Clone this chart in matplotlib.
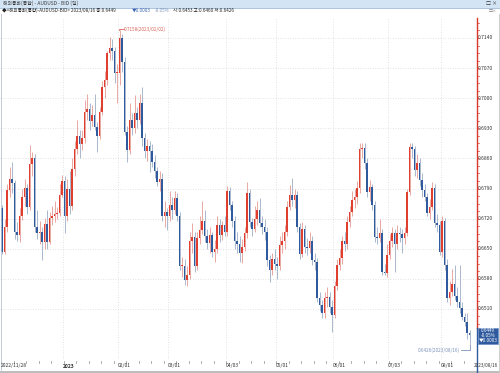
import matplotlib
matplotlib.use('Agg')
import matplotlib.pyplot as plt
from matplotlib.patches import Rectangle
from matplotlib.lines import Line2D

plt.rcParams['font.family'] = ['Noto Sans CJK KR', 'DejaVu Sans']

# ---------------- data (AUDUSD daily, 2022/11/28 - 2023/08/16) ----------------
opens = [
    0.6745, 0.6643, 0.6700, 0.6787, 0.6811, 0.6802, 0.6690, 0.6683, 0.6725, 0.6771,
    0.6792, 0.6748, 0.6846, 0.6860, 0.6701, 0.6686, 0.6690, 0.6666, 0.6707, 0.6666,
    0.6721, 0.6725, 0.6730, 0.6732, 0.6776, 0.6808, 0.6727, 0.6790, 0.6750, 0.6835,
    0.6882, 0.6911, 0.6893, 0.6907, 0.6967, 0.6976, 0.6947, 0.6960, 0.6934, 0.6911,
    0.6969, 0.7027, 0.7042, 0.7104, 0.7116, 0.7110, 0.7058, 0.7058, 0.7140, 0.7085,
    0.6922, 0.6880, 0.6949, 0.6930, 0.6965, 0.6950, 0.6990, 0.6907, 0.6877, 0.6890,
    0.6877, 0.6852, 0.6830, 0.6806, 0.6812, 0.6725, 0.6736, 0.6725, 0.6752, 0.6740,
    0.6769, 0.6725, 0.6610, 0.6611, 0.6577, 0.6590, 0.6667, 0.6678, 0.6610, 0.6674,
    0.6694, 0.6715, 0.6680, 0.6663, 0.6682, 0.6643, 0.6649, 0.6705, 0.6682, 0.6705,
    0.6690, 0.6784, 0.6752, 0.6715, 0.6668, 0.6660, 0.6639, 0.6655, 0.6686, 0.6779,
    0.6713, 0.6697, 0.6718, 0.6740, 0.6709, 0.6700, 0.6690, 0.6624, 0.6600, 0.6626,
    0.6614, 0.6610, 0.6659, 0.6667, 0.6690, 0.6748, 0.6776, 0.6763, 0.6776, 0.6701,
    0.6637, 0.6697, 0.6655, 0.6652, 0.6668, 0.6624, 0.6620, 0.6535, 0.6520, 0.6500,
    0.6535, 0.6538, 0.6515, 0.6497, 0.6564, 0.6612, 0.6628, 0.6667, 0.6660, 0.6713,
    0.6736, 0.6763, 0.6770, 0.6791, 0.6883, 0.6885, 0.6849, 0.6783, 0.6794, 0.6752,
    0.6678, 0.6674, 0.6686, 0.6597, 0.6593, 0.6635, 0.6667, 0.6686, 0.6660, 0.6686,
    0.6684, 0.6674, 0.6686, 0.6783, 0.6887, 0.6883, 0.6833, 0.6850, 0.6810, 0.6787,
    0.6771, 0.6732, 0.6748, 0.6791, 0.6709, 0.6705, 0.6643, 0.6715, 0.6612, 0.6535,
    0.6550, 0.6569, 0.6539, 0.6527, 0.6513, 0.6492, 0.6480, 0.6453,
]
highs = [
    0.6752, 0.6720, 0.6800, 0.6841, 0.6851, 0.6810, 0.6712, 0.6744, 0.6790, 0.6812,
    0.6800, 0.6891, 0.6875, 0.6870, 0.6740, 0.6715, 0.6700, 0.6722, 0.6740, 0.6735,
    0.6750, 0.6760, 0.6748, 0.6800, 0.6822, 0.6818, 0.6812, 0.6830, 0.6860, 0.6900,
    0.6950, 0.6925, 0.6925, 0.6995, 0.7010, 0.6990, 0.6985, 0.7010, 0.6945, 0.6980,
    0.7040, 0.7063, 0.7110, 0.7142, 0.7137, 0.7120, 0.7080, 0.7158, 0.7150, 0.7095,
    0.6935, 0.6990, 0.6965, 0.7007, 0.6980, 0.7010, 0.7027, 0.6920, 0.6905, 0.6900,
    0.6893, 0.6868, 0.6840, 0.6830, 0.6825, 0.6760, 0.6745, 0.6785, 0.6770, 0.6784,
    0.6780, 0.6735, 0.6630, 0.6625, 0.6610, 0.6690, 0.6710, 0.6690, 0.6690, 0.6725,
    0.6760, 0.6740, 0.6695, 0.6700, 0.6690, 0.6670, 0.6725, 0.6720, 0.6715, 0.6725,
    0.6795, 0.6793, 0.6760, 0.6725, 0.6690, 0.6680, 0.6672, 0.6700, 0.6806, 0.6790,
    0.6722, 0.6750, 0.6760, 0.6769, 0.6725, 0.6720, 0.6700, 0.6635, 0.6640, 0.6650,
    0.6630, 0.6680, 0.6690, 0.6705, 0.6760, 0.6798, 0.6814, 0.6790, 0.6785, 0.6710,
    0.6712, 0.6705, 0.6675, 0.6690, 0.6680, 0.6640, 0.6628, 0.6550, 0.6530, 0.6550,
    0.6560, 0.6550, 0.6530, 0.6575, 0.6625, 0.6650, 0.6680, 0.6690, 0.6725, 0.6750,
    0.6785, 0.6790, 0.6808, 0.6895, 0.6897, 0.6895, 0.6860, 0.6810, 0.6800, 0.6760,
    0.6700, 0.6720, 0.6695, 0.6615, 0.6660, 0.6685, 0.6700, 0.6695, 0.6705, 0.6700,
    0.6695, 0.6700, 0.6790, 0.6895, 0.6897, 0.6890, 0.6870, 0.6862, 0.6825, 0.6800,
    0.6780, 0.6765, 0.6805, 0.6800, 0.6730, 0.6715, 0.6725, 0.6722, 0.6625, 0.6575,
    0.6604, 0.6612, 0.6560, 0.6612, 0.6525, 0.6500, 0.6500, 0.6460,
]
lows = [
    0.6638, 0.6638, 0.6690, 0.6770, 0.6780, 0.6672, 0.6668, 0.6665, 0.6716, 0.6750,
    0.6730, 0.6740, 0.6820, 0.6690, 0.6672, 0.6660, 0.6624, 0.6650, 0.6650, 0.6660,
    0.6705, 0.6712, 0.6718, 0.6726, 0.6770, 0.6686, 0.6715, 0.6730, 0.6740, 0.6820,
    0.6870, 0.6860, 0.6880, 0.6895, 0.6950, 0.6925, 0.6935, 0.6925, 0.6875, 0.6905,
    0.6960, 0.7000, 0.7030, 0.7090, 0.7090, 0.7035, 0.6990, 0.7030, 0.7060, 0.6915,
    0.6852, 0.6870, 0.6915, 0.6920, 0.6930, 0.6940, 0.6890, 0.6862, 0.6855, 0.6829,
    0.6840, 0.6815, 0.6795, 0.6785, 0.6715, 0.6700, 0.6694, 0.6715, 0.6720, 0.6730,
    0.6715, 0.6600, 0.6585, 0.6566, 0.6564, 0.6580, 0.6640, 0.6595, 0.6600, 0.6660,
    0.6685, 0.6665, 0.6650, 0.6640, 0.6630, 0.6620, 0.6640, 0.6665, 0.6670, 0.6680,
    0.6680, 0.6740, 0.6700, 0.6650, 0.6640, 0.6620, 0.6616, 0.6645, 0.6675, 0.6700,
    0.6680, 0.6690, 0.6705, 0.6700, 0.6685, 0.6670, 0.6610, 0.6573, 0.6590, 0.6600,
    0.6580, 0.6600, 0.6640, 0.6650, 0.6680, 0.6740, 0.6750, 0.6745, 0.6690, 0.6625,
    0.6630, 0.6640, 0.6635, 0.6640, 0.6612, 0.6600, 0.6525, 0.6505, 0.6490, 0.6490,
    0.6515, 0.6500, 0.6457, 0.6490, 0.6555, 0.6600, 0.6615, 0.6645, 0.6650, 0.6700,
    0.6725, 0.6745, 0.6755, 0.6780, 0.6860, 0.6835, 0.6770, 0.6760, 0.6740, 0.6665,
    0.6660, 0.6665, 0.6590, 0.6589, 0.6585, 0.6625, 0.6655, 0.6597, 0.6650, 0.6665,
    0.6640, 0.6660, 0.6680, 0.6775, 0.6860, 0.6820, 0.6815, 0.6795, 0.6770, 0.6760,
    0.6725, 0.6720, 0.6740, 0.6700, 0.6690, 0.6635, 0.6630, 0.6600, 0.6525, 0.6520,
    0.6540, 0.6530, 0.6515, 0.6500, 0.6485, 0.6470, 0.6440, 0.6426,
]
closes = [
    0.6643, 0.6700, 0.6787, 0.6811, 0.6802, 0.6690, 0.6683, 0.6725, 0.6771, 0.6792,
    0.6748, 0.6846, 0.6860, 0.6701, 0.6686, 0.6690, 0.6666, 0.6707, 0.6666, 0.6721,
    0.6725, 0.6730, 0.6732, 0.6776, 0.6808, 0.6727, 0.6790, 0.6750, 0.6835, 0.6882,
    0.6911, 0.6893, 0.6907, 0.6967, 0.6976, 0.6947, 0.6960, 0.6934, 0.6911, 0.6969,
    0.7027, 0.7042, 0.7104, 0.7116, 0.7110, 0.7058, 0.7058, 0.7140, 0.7085, 0.6922,
    0.6880, 0.6949, 0.6930, 0.6965, 0.6950, 0.6990, 0.6907, 0.6877, 0.6890, 0.6877,
    0.6852, 0.6830, 0.6806, 0.6812, 0.6725, 0.6736, 0.6725, 0.6752, 0.6740, 0.6769,
    0.6725, 0.6610, 0.6611, 0.6577, 0.6590, 0.6667, 0.6678, 0.6610, 0.6674, 0.6694,
    0.6715, 0.6680, 0.6663, 0.6682, 0.6643, 0.6649, 0.6705, 0.6682, 0.6705, 0.6690,
    0.6784, 0.6752, 0.6715, 0.6668, 0.6660, 0.6639, 0.6655, 0.6686, 0.6779, 0.6713,
    0.6697, 0.6718, 0.6740, 0.6709, 0.6700, 0.6690, 0.6624, 0.6600, 0.6626, 0.6614,
    0.6610, 0.6659, 0.6667, 0.6690, 0.6748, 0.6776, 0.6763, 0.6776, 0.6701, 0.6637,
    0.6697, 0.6655, 0.6652, 0.6668, 0.6624, 0.6620, 0.6535, 0.6520, 0.6500, 0.6535,
    0.6538, 0.6515, 0.6497, 0.6564, 0.6612, 0.6628, 0.6667, 0.6660, 0.6713, 0.6736,
    0.6763, 0.6770, 0.6791, 0.6883, 0.6885, 0.6849, 0.6783, 0.6794, 0.6752, 0.6678,
    0.6674, 0.6686, 0.6597, 0.6593, 0.6635, 0.6667, 0.6686, 0.6660, 0.6686, 0.6684,
    0.6674, 0.6686, 0.6783, 0.6887, 0.6883, 0.6833, 0.6850, 0.6810, 0.6787, 0.6771,
    0.6732, 0.6748, 0.6791, 0.6709, 0.6705, 0.6643, 0.6715, 0.6612, 0.6535, 0.6550,
    0.6569, 0.6539, 0.6527, 0.6513, 0.6492, 0.6480, 0.6453, 0.6449,
]

x_tick_index = [0, 25, 47, 67, 90, 110, 133, 155, 176]
x_tick_labels = ['2022/11/28', '2023', '02/01', '03/01', '04/03', '05/01', '06/01', '07/03', '08/01']
last_date_label = '2023/08/16'
y_tick_values = [0.7140, 0.7070, 0.7000, 0.6930, 0.6860, 0.6790, 0.6720, 0.6650, 0.6580, 0.6510]

title_text = '해외통화(통합) - AUDUSD - BID (일)'
info_main = '◆<해외통화(통합)-AUDUSD-BID> 2023/08/16 종:0.6449'
info_change = '▼0.0003'
info_pct = '-0.05%'
info_rest = '시:0.6453 고:0.6460 저:0.6426'
high_note = '0.7158(2023/02/02)'
low_note = '0.6426(2023/08/16)'
last_price = '0.6449'

# ---------------- figure ----------------
W, H = 500, 373
fig = plt.figure(figsize=(W / 100, H / 100), dpi=100)
fig.patch.set_facecolor('white')

def fx(px):
    return px / W

def fy(py):
    return 1 - py / H

TOP, BOT, RIGHT = 18, 360, 476
ax = fig.add_axes([0, fy(BOT), fx(RIGHT), (BOT - TOP) / H])
ax.set_xlim(-0.8, 189.6)
ax.set_ylim(0.63913, 0.71865)
for s in ax.spines.values():
    s.set_visible(False)
ax.set_xticks([])
ax.set_yticks([])

UP, DN = '#e03f30', '#2f5a9e'
UPW, DNW = '#e9a8a1', '#a9b8cd'
GRID = '#d9d9d9'

# grid
for v in y_tick_values:
    ax.axhline(v, color=GRID, lw=0.6, ls=(0, (1, 2)), zorder=0)
for t in x_tick_index[1:]:
    ax.axvline(t - 0.6, color=GRID, lw=0.6, ls=(0, (1, 2)), zorder=0)

# candles
n = len(closes)
for i in range(n):
    o, h, l, c = opens[i], highs[i], lows[i], closes[i]
    up = c >= o
    ax.vlines(i, l, h, color=UPW if up else DNW, lw=0.7, zorder=1)
    lo = min(o, c)
    hgt = max(abs(c - o), 0.00018)
    ax.bar(i, hgt, bottom=lo, width=0.78, color=UP if up else DN,
           linewidth=0, zorder=2)

# high / low markers
hi_i = max(range(n), key=lambda k: highs[k])
lo_i = min(range(n), key=lambda k: lows[k])
ax.plot([hi_i - 0.3, hi_i - 0.3, hi_i + 1.6], [highs[hi_i], highs[hi_i] + 0.0003, highs[hi_i] + 0.0003],
        color='#d9655a', lw=0.6, zorder=3)
ax.text(hi_i + 1.7, highs[hi_i] + 0.0003, high_note, fontsize=3.4, color='#d9655a',
        va='center', ha='left')
ax.plot([lo_i, lo_i, lo_i - 3.6], [lows[lo_i], lows[lo_i] - 0.0011, lows[lo_i] - 0.0011],
        color='#7d94bd', lw=0.6, zorder=3)
ax.text(lo_i - 3.8, lows[lo_i] - 0.0011, low_note, fontsize=3.4, color='#7d94bd',
        va='center', ha='right')

# right price axis
ytr = ax.get_yaxis_transform()
for v in y_tick_values:
    ax.text(1 + 2 / RIGHT, v, f'{v:.4f}', transform=ytr, fontsize=3.6, color='#333333',
            va='center', ha='left', clip_on=False)

def price_to_py(p):
    return TOP + (0.71865 - p) / (0.71865 - 0.63913) * (BOT - TOP)

box_top = 328
fig.add_artist(Line2D([fx(476.5), fx(476.5)], [fy(TOP), fy(box_top)], color='#d8392a', lw=1.0))
fig.add_artist(Line2D([fx(476.5), fx(476.5)], [fy(box_top), fy(372)], color='#2f5a9e', lw=1.0))
v = 0.7175
while v > 0.6440:
    py = price_to_py(v)
    if py < box_top:
        fig.add_artist(Line2D([fx(476.5), fx(479)], [fy(py), fy(py)], color='#d8392a', lw=0.5))
    v -= 0.00175

# price box
fig.add_artist(Rectangle((fx(477.5), fy(344)), fx(20), 16 / H, transform=fig.transFigure,
                         facecolor='#2f5a9e', edgecolor='#6f8fc4', lw=0.5))
fig.text(fx(481), fy(330.5), last_price, fontsize=3.3, color='white', va='center', ha='left')
fig.text(fx(481), fy(335.5), info_pct, fontsize=3.3, color='white', va='center', ha='left')
fig.text(fx(479), fy(340.5), info_change, fontsize=3.3, color='white', va='center', ha='left')

# x labels & weekly minor ticks
def ix_to_px(i):
    return 2 + 2.5 * i

for t, lab in zip(x_tick_index, x_tick_labels):
    fig.text(fx(ix_to_px(t) - 1.5 if t > 0 else 1), fy(366), lab, fontsize=3.6, color='#333333',
             va='center', ha='left', fontweight='bold' if lab == '2023' else 'normal')
fig.text(fx(498), fy(366), last_date_label, fontsize=3.3, color='#333333', va='center', ha='right')
for i in range(0, n, 5):
    px = ix_to_px(i) - 1
    fig.add_artist(Line2D([fx(px), fx(px)], [fy(360.5), fy(362.5)], color='#888888', lw=0.5))

# frame
fig.add_artist(Rectangle((0, 0), 1, 2 / H, transform=fig.transFigure, facecolor='#bdbdbd', lw=0))
fig.add_artist(Line2D([fx(0.5), fx(0.5)], [fy(14), fy(373)], color='#b8c4d2', lw=0.6))
fig.add_artist(Line2D([fx(499), fx(499)], [fy(14), fy(373)], color='#c8c8c8', lw=0.6))

# title bar
fig.add_artist(Rectangle((0, fy(7.5)), 1, 7.5 / H, transform=fig.transFigure,
                         facecolor='#d3e5f5', edgecolor='none'))
fig.add_artist(Line2D([0, 1], [fy(7.5), fy(7.5)], color='#9dbbd8', lw=0.6))
fig.text(fx(3), fy(3.6), title_text, fontsize=3.5, color='#3a3a3a', va='center', ha='left')
fig.text(fx(486), fy(3.6), '□ ×', fontsize=3.6, color='#333333', va='center', ha='left')
fig.text(fx(489), fy(10.5), '□×', fontsize=3.0, color='#777777', va='center', ha='left')

# info line
fig.text(fx(2), fy(10.5), info_main, fontsize=3.3, color='#222222', va='center', ha='left')
fig.text(fx(132), fy(10.5), info_change, fontsize=3.3, color='#3b63b3', va='center', ha='left')
fig.text(fx(155), fy(10.5), info_pct, fontsize=3.3, color='#7d94bd', va='center', ha='left')
fig.text(fx(173), fy(10.5), info_rest, fontsize=3.3, color='#222222', va='center', ha='left')

fig.savefig('out.png', dpi=100)
